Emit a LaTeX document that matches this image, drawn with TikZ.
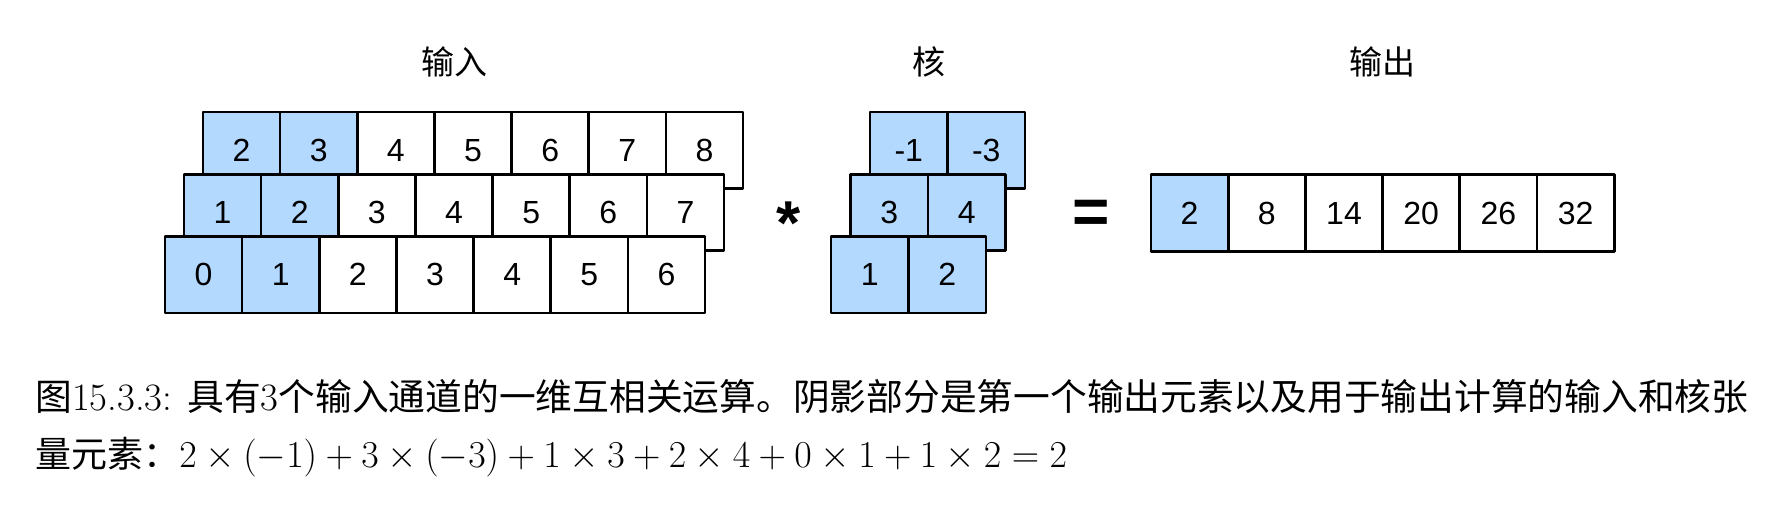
\RequirePackage{fix-cm}
\documentclass[tikz,border=0pt]{standalone}
\usepackage{fontspec}
\usepackage{graphicx}
\newfontfamily\arialf{Liberation Sans}
\newfontfamily\cjk{Noto Sans CJK SC}
\definecolor{cellblue}{RGB}{179,217,255}
\newcommand\latsz{\fontsize{19pt}{23pt}\selectfont}
\begin{document}
\begin{tikzpicture}[x=0.5pt,y=-0.5pt,
  cell/.style={draw=black, line width=1.35pt, line join=round, fill=white,
    minimum width=38.6pt, minimum height=38.25pt, inner sep=0pt, outer sep=0pt,
    font=\arialf\fontsize{16pt}{19pt}\selectfont},
  bcell/.style={cell, fill=cellblue},
  kcell/.style={bcell, minimum width=38.75pt},
  ocell/.style={cell, minimum height=38.7pt},
  lab/.style={anchor=base, inner sep=0pt, font=\cjk\fontsize{16.5pt}{20pt}\selectfont},
  op/.style={anchor=base, inner sep=0pt, font=\arialf\bfseries\fontsize{31pt}{36pt}\selectfont},
  capt/.style={anchor=base west, inner sep=0pt, font=\fontsize{18pt}{22pt}\selectfont}]
\useasboundingbox[fill=white] (0,0) rectangle (1782,510);
% input channels
\foreach \r in {1,2,3} {
  \foreach \c in {1,...,7} {
    \ifnum\c<3 \def\st{bcell}\else\def\st{cell}\fi
    \pgfmathtruncatemacro\v{\c+2-\r}
    \node[\st] (in\r\c) at ({203-19*(\r-1)+77.15*(\c-0.5)}, {112+62.25*(\r-1)+38.25}) {\v};
  }
}
% kernel
\node[kcell] (k11) at (908.75,150.25) {-1};
\node[kcell] (k12) at (986.25,150.25) {-3};
\node[kcell] (k21) at (889.25,212.5) {3};
\node[kcell] (k22) at (966.75,212.5) {4};
\node[kcell] (k31) at (869.75,274.75) {1};
\node[kcell] (k32) at (947.25,274.75) {2};
% output
\node[ocell, fill=cellblue] (o1) at (1189.6,213) {2};
\node[ocell] (o2) at (1266.8,213) {8};
\node[ocell] (o3) at (1344.0,213) {14};
\node[ocell] (o4) at (1421.2,213) {20};
\node[ocell] (o5) at (1498.4,213) {26};
\node[ocell] (o6) at (1575.6,213) {32};
% labels
\node[lab] (lin) at (454,74) {输入};
\node[lab] (lk) at (928.5,74) {核};
\node[lab] (lout) at (1382.5,74) {输出};
% operators
\node[op] (star) at (789,244) {*};
\node[op, font=\arialf\bfseries\fontsize{32pt}{36pt}\selectfont] (eq) at (1091.5,233) {=};
% caption
\node[capt] (cap1) at (35,410) {\resizebox{856.5pt}{!}{{\cjk 图}{\latsz 15.3.3:} {\cjk 具有}{\latsz 3}{\cjk 个输入通道的一维互相关运算。阴影部分是第一个输出元素以及用于输出计算的输入和核张}}};
\node[capt] (cap2) at (35,467) {{\cjk 量元素：}{\latsz$2\times(-1)+3\times(-3)+1\times3+2\times4+0\times1+1\times2=2$}};
\end{tikzpicture}
\end{document}
